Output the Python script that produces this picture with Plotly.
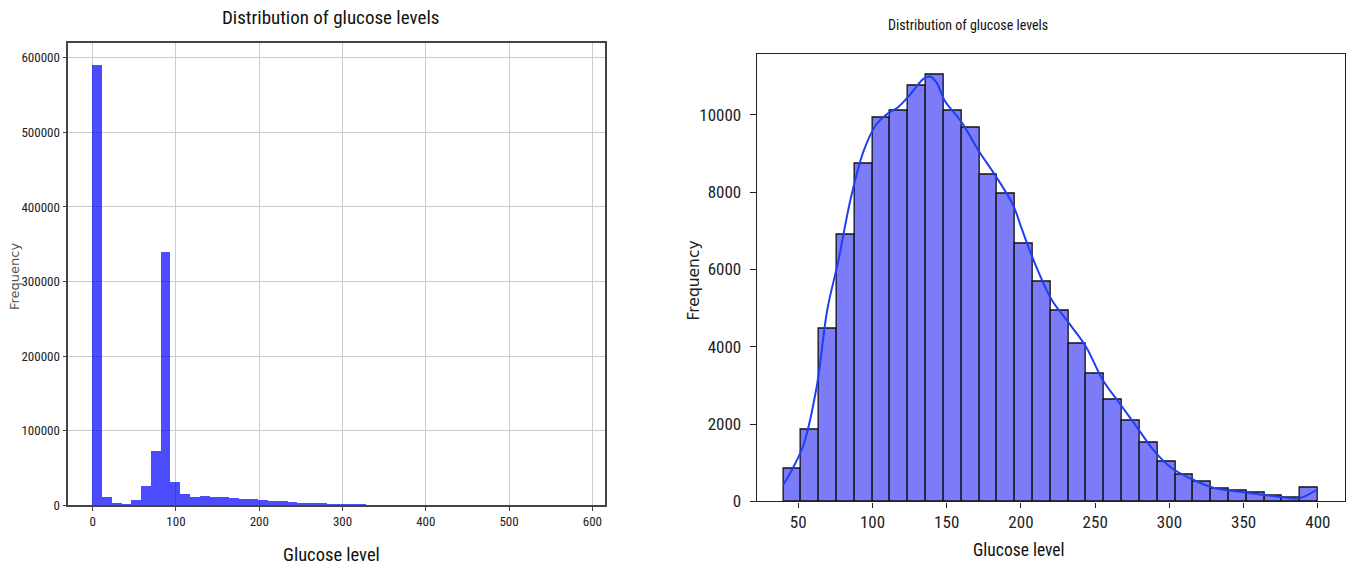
import numpy as np
import plotly.graph_objects as go

# ---- left panel: raw glucose values, 50 equal bins over 0..586 ----
left_bin_lo, left_bin_hi, left_nbins = 0, 586, 50
left_counts = [
    590500, 11000, 3500, 1800, 7500, 25000, 73000, 339000, 31500, 15000,
    11000, 12500, 11000, 10500, 9000, 8800, 7800, 7000, 6000, 5500,
    4500, 3500, 3200, 2800, 2000, 1700, 1600, 1400, 500, 300,
    200, 150, 120, 100, 80, 60, 50, 40, 30, 30,
    20, 20, 15, 10, 10, 10, 10, 5, 5, 5,
]
left_xticks = [0, 100, 200, 300, 400, 500, 600]
left_yticks = [0, 100000, 200000, 300000, 400000, 500000, 600000]

# ---- right panel: cleaned glucose values, 30 bins over 40..400 ----
right_bin_lo, right_bin_hi, right_nbins = 40, 400, 30
right_counts = [
    836, 1864, 4460, 6899, 8728, 9930, 10113, 10749, 11045, 10113,
    9660, 8450, 7970, 6681, 5679, 4930, 4085, 3301, 2639, 2099,
    1533, 1028, 688, 505, 340, 279, 218, 157, 87, 366,
]
# kernel density estimate, scaled to counts
kde_x = [40, 46.5, 53.7, 62.4, 69.6, 76.8, 85.4, 94, 102.7, 111.3, 117,
         125.7, 134.3, 138.6, 143, 148.7, 160.2, 171.7, 183.2, 194.7, 200.5,
         209.1, 220.6, 232.2, 243.7, 255.2, 266.7, 278.2, 289.7, 301.2, 315.6,
         330, 344.4, 358.8, 373.2, 387.6, 400]
kde_y = [435, 870, 1480, 2960, 4965, 6185, 7840, 9060, 9756, 10061, 10190,
         10540, 10931, 10993, 10845, 10366, 9800, 9059, 8406, 7666, 7056,
         6185, 5226, 4617, 4007, 3136, 2526, 1916, 1307, 871, 566,
         348, 261, 192, 122, 87, 322]
right_xticks = [50, 100, 150, 200, 250, 300, 350, 400]
right_yticks = [0, 2000, 4000, 6000, 8000, 10000]

title_text = "Distribution of glucose levels"
xlabel_text = "Glucose level"
ylabel_text = "Frequency"

NARROW = "Liberation Sans Narrow, Roboto Condensed, Arial Narrow, Roboto, sans-serif"
WIDE = "DejaVu Sans, Verdana, sans-serif"

left_w = (left_bin_hi - left_bin_lo) / left_nbins
left_centers = left_bin_lo + left_w * (np.arange(left_nbins) + 0.5)
right_w = (right_bin_hi - right_bin_lo) / right_nbins
right_centers = right_bin_lo + right_w * (np.arange(right_nbins) + 0.5)

fig = go.Figure()

fig.add_trace(go.Bar(
    x=left_centers, y=left_counts, width=left_w,
    marker=dict(color="rgba(0,0,255,0.7)", line=dict(width=0)),
    xaxis="x", yaxis="y", showlegend=False, hoverinfo="x+y",
))

fig.add_trace(go.Bar(
    x=right_centers, y=right_counts, width=right_w,
    marker=dict(color="rgb(124,124,248)", line=dict(color="#111111", width=1.3)),
    xaxis="x2", yaxis="y2", showlegend=False, hoverinfo="x+y",
))

fig.add_trace(go.Scatter(
    x=kde_x, y=kde_y, mode="lines", line=dict(color="#1f3ff5", width=2, shape="spline"),
    xaxis="x2", yaxis="y2", showlegend=False, hoverinfo="skip",
))

W, H = 1352, 568

def px_x(v):
    return v / W

def px_y(v):
    return 1 - v / H

tick_font_l = dict(family=NARROW, size=13, color="#222222")
tick_font_r = dict(family=NARROW, size=17, color="#222222")

fig.update_layout(
    width=W, height=H,
    margin=dict(l=0, r=0, t=0, b=0),
    paper_bgcolor="white", plot_bgcolor="white",
    bargap=0, barmode="overlay",
    xaxis=dict(
        domain=[px_x(68.3), px_x(605)], anchor="y",
        range=[-29.3, 615.2], tickvals=left_xticks, tickformat="d",
        showgrid=True, gridcolor="#cccccc", gridwidth=1, zeroline=False,
        showline=True, linecolor="#444444", linewidth=1.5, mirror=True,
        ticks="outside", ticklen=4, tickcolor="#444444", tickfont=tick_font_l,
    ),
    yaxis=dict(
        domain=[px_y(514.1), px_y(43.7)], anchor="x",
        range=[0, 620100], tickvals=left_yticks, tickformat="d",
        showgrid=True, gridcolor="#cccccc", gridwidth=1, zeroline=False,
        showline=True, linecolor="#444444", linewidth=1.5, mirror=True,
        ticks="outside", ticklen=4, tickcolor="#444444", tickfont=tick_font_l,
    ),
    xaxis2=dict(
        domain=[px_x(756.8), px_x(1344.5)], anchor="y2",
        range=[22.1, 417.9], tickvals=right_xticks, tickformat="d",
        showgrid=False, zeroline=False,
        showline=True, linecolor="#222222", linewidth=1.3, mirror=True,
        ticks="outside", ticklen=5, tickcolor="#222222", tickfont=tick_font_r,
    ),
    yaxis2=dict(
        domain=[px_y(510.4), px_y(54.6)], anchor="x2",
        range=[0, 11583], tickvals=right_yticks, tickformat="d",
        showgrid=False, zeroline=False,
        showline=True, linecolor="#222222", linewidth=1.3, mirror=True,
        ticks="outside", ticklen=6, tickcolor="#222222", tickfont=tick_font_r,
        ticklabelstandoff=5,
    ),
)

annotations = [
    # left panel texts
    dict(text=title_text, x=px_x(330), y=px_y(18), font=dict(family=NARROW, size=19, color="#111111")),
    dict(text=xlabel_text, x=px_x(331), y=px_y(565), font=dict(family=NARROW, size=18.5, color="#111111")),
    dict(text=ylabel_text, x=px_x(14), y=px_y(282), textangle=-90, font=dict(family=WIDE, size=13, color="#555555")),
    # right panel texts
    dict(text=title_text, x=px_x(968), y=px_y(25), font=dict(family=NARROW, size=14, color="#111111")),
    dict(text=xlabel_text, x=px_x(1019), y=px_y(560), font=dict(family=NARROW, size=17.5, color="#111111")),
    dict(text=ylabel_text, x=px_x(694), y=px_y(285.5), textangle=-90, font=dict(family=WIDE, size=15.5, color="#222222")),
]
for a in annotations:
    a.update(xref="paper", yref="paper", showarrow=False, xanchor="center", yanchor="middle")
fig.update_layout(annotations=annotations)

fig.write_html("out.html")
